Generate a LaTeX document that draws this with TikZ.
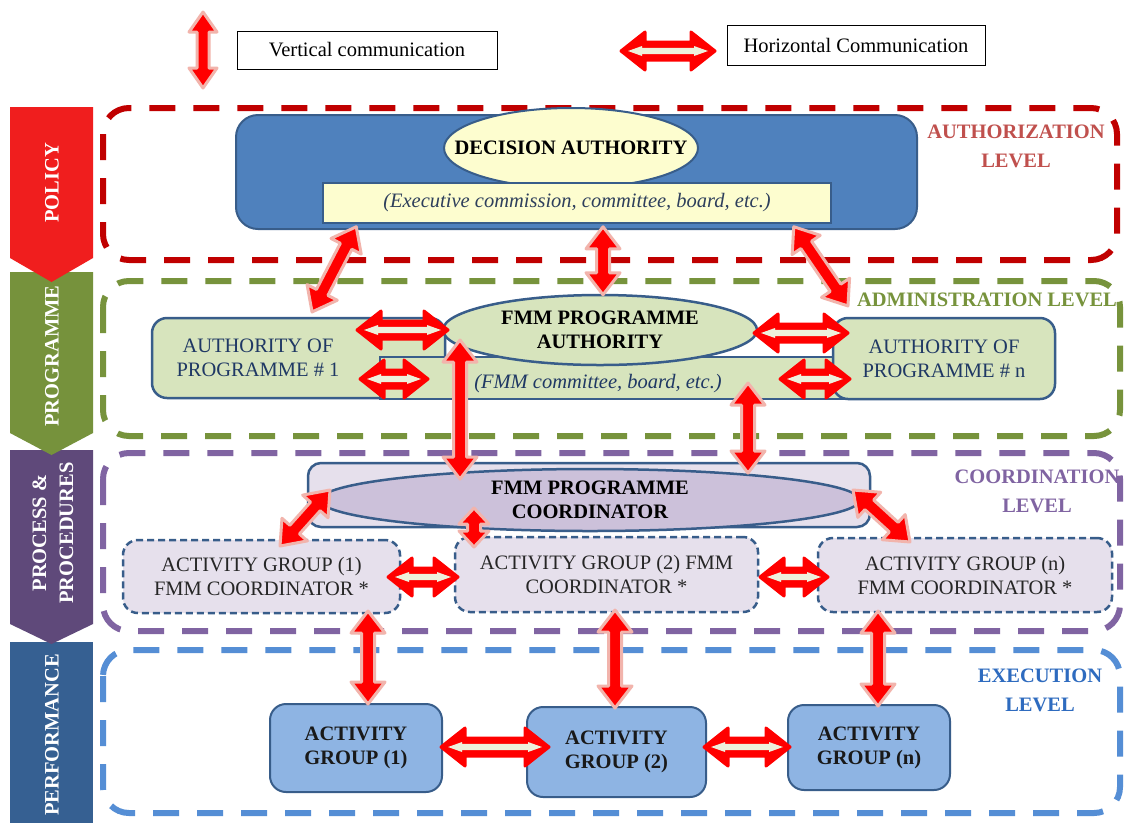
\documentclass[tikz,border=0pt]{standalone}
\usepackage{fontspec}
\setmainfont{Liberation Serif}
\usetikzlibrary{calc,shapes.geometric}

\definecolor{bandred}{HTML}{F01E1E}
\definecolor{bandgreen}{HTML}{76923C}
\definecolor{bandpurple}{HTML}{5F497A}
\definecolor{bandblue}{HTML}{366092}
\definecolor{framered}{HTML}{C00000}
\definecolor{framegreen}{HTML}{77933C}
\definecolor{framepurple}{HTML}{8064A2}
\definecolor{frameblue}{HTML}{558ED5}
\definecolor{edgeblue}{HTML}{385D8A}
\definecolor{decfill}{HTML}{4F81BD}
\definecolor{paleyellow}{HTML}{FDFDCF}
\definecolor{progfill}{HTML}{D7E4BD}
\definecolor{coordfill}{HTML}{E6E0EC}
\definecolor{coordell}{HTML}{CCC1DA}
\definecolor{execfill}{HTML}{8EB4E3}
\definecolor{navytext}{HTML}{1F3864}
\definecolor{italictext}{HTML}{2E3F5C}
\definecolor{arrowred}{HTML}{FF0000}
\definecolor{arrowpink}{HTML}{F2B4AC}
\definecolor{arrowcream}{HTML}{EEF0DC}
\definecolor{lblred}{HTML}{C0504D}
\definecolor{lblgreen}{HTML}{77933C}
\definecolor{lblpurple}{HTML}{8064A2}
\definecolor{lblblue}{HTML}{2E6BBF}

\newcommand\diafont{\fontsize{20.5}{24}\selectfont}

% block-arrow geometry (all in pt): inset, head length, head half width, shaft half width
\def\bkI{0}\def\bkH{22}\def\bkW{17}\def\bkS{6.5}

\tikzset{
  bkinset/.code={\def\bkI{#1}},
  bkhead/.code={\def\bkH{#1}},
  bkhalf/.code={\def\bkW{#1}},
  bkshaft/.code={\def\bkS{#1}},
  blockarrow/.style={to path={
    let \p1=(\tikztostart), \p2=(\tikztotarget),
        \n1={atan2(\y2-\y1,\x2-\x1)}, \n2={veclen(\x2-\x1,\y2-\y1)} in
    ($(\p1)+(\n1:\bkI pt)$)
    -- ($(\p1)+(\n1:\bkI pt+\bkH pt)+(\n1+90:\bkW pt)$)
    -- ($(\p1)+(\n1:\bkI pt+\bkH pt)+(\n1+90:\bkS pt)$)
    -- ($(\p1)+(\n1:\n2-\bkI pt-\bkH pt)+(\n1+90:\bkS pt)$)
    -- ($(\p1)+(\n1:\n2-\bkI pt-\bkH pt)+(\n1+90:\bkW pt)$)
    -- ($(\p1)+(\n1:\n2-\bkI pt)$)
    -- ($(\p1)+(\n1:\n2-\bkI pt-\bkH pt)+(\n1-90:\bkW pt)$)
    -- ($(\p1)+(\n1:\n2-\bkI pt-\bkH pt)+(\n1-90:\bkS pt)$)
    -- ($(\p1)+(\n1:\bkI pt+\bkH pt)+(\n1-90:\bkS pt)$)
    -- ($(\p1)+(\n1:\bkI pt+\bkH pt)+(\n1-90:\bkW pt)$)
    -- cycle}},
  vconn/.style={blockarrow, fill=arrowred, draw=arrowpink, line width=3pt, line join=round},
  hout/.style={blockarrow, fill=arrowred, draw=arrowred, line width=3pt, line join=round,
    bkhead=24, bkhalf=19, bkshaft=9},
  hin/.style={blockarrow, fill=arrowcream, bkinset=7, bkhead=14, bkhalf=5, bkshaft=3.2},
  lvlframe/.style={line width=6pt, dash pattern=on 26pt off 18pt, rounded corners=26pt},
  bandtext/.style={rotate=90, text=white, font=\diafont\bfseries, align=center, inner sep=0pt},
  legendbox/.style={draw=black, line width=1pt, fill=white, inner sep=0pt, font=\diafont},
  decbox/.style={fill=decfill, draw=edgeblue, line width=2pt, rounded corners=22pt, inner sep=0pt},
  yellowell/.style={ellipse, fill=paleyellow, draw=edgeblue, line width=2pt, inner sep=0pt},
  celltext/.style={font=\diafont\bfseries, inner sep=0pt, align=center},
  yellowbar/.style={fill=paleyellow, draw=edgeblue, line width=1.5pt, inner sep=0pt,
    font=\diafont\itshape, text=italictext},
  progbox/.style={fill=progfill, draw=edgeblue, line width=2.5pt, rounded corners=15pt, inner sep=0pt},
  progell/.style={ellipse, fill=progfill, draw=edgeblue, line width=2.5pt, inner sep=0pt},
  coordbox/.style={fill=coordfill, draw=edgeblue, line width=2.5pt, rounded corners=13pt, inner sep=0pt},
  coordell/.style={ellipse, fill=coordell, draw=edgeblue, line width=2.5pt, inner sep=0pt},
  agbox/.style={fill=coordfill, draw=edgeblue, line width=2.5pt, dash pattern=on 7pt off 4pt,
    rounded corners=15pt, inner sep=0pt, font=\diafont, text=black!85, align=center},
  execbox/.style={fill=execfill, draw=edgeblue, line width=2pt, rounded corners=16pt, inner sep=0pt,
    font=\diafont\bfseries, text=black!90, align=center},
  lvllabel/.style={font=\fontsize{20.5}{29}\selectfont\bfseries, align=center, inner sep=0pt},
  plaintext/.style={font=\diafont, inner sep=0pt, align=center},
}

\newcommand\commlink[2]{\draw[hout] (#1) to (#2); \fill[hin] (#1) to (#2);}

\begin{document}
\begin{tikzpicture}[x=1pt,y=-1pt]
\useasboundingbox[fill=white] (0,0) rectangle (1129,823);

% ---- side bands (chevrons) ----
\fill[bandblue] (10,642) -- (93,642) -- (93,823) -- (10,823) -- cycle;
\fill[bandpurple] (10,450) -- (93,450) -- (93,624) -- (51.5,644) -- (10,624) -- cycle;
\fill[bandgreen] (10,272) -- (93,272) -- (93,433) -- (51.5,455) -- (10,433) -- cycle;
\fill[bandred] (10,107) -- (93,107) -- (93,258) -- (51.5,282) -- (10,258) -- cycle;
\node[bandtext] (bpolicy) at (52,183) {POLICY};
\node[bandtext] (bprog) at (52,356) {PROGRAMME};
\node[bandtext, font=\fontsize{20.5}{27}\selectfont\bfseries] (bproc) at (53,533) {PROCESS \&\\PROCEDURES};
\node[bandtext] (bperf) at (52,735) {PERFORMANCE};

% ---- level frames ----
\draw[lvlframe, framered] (103,108) rectangle (1117,260);
\draw[lvlframe, framegreen] (103,281) rectangle (1120,436);
\draw[lvlframe, framepurple] (103,453) rectangle (1120,631);
\draw[lvlframe, frameblue] (103,650) rectangle (1120,813);

\node[lvllabel, text=lblred] (lauth) at (1016,146) {AUTHORIZATION\\LEVEL};
\node[lvllabel, text=lblgreen] (ladmin) at (987,300) {ADMINISTRATION LEVEL};
\node[lvllabel, text=lblpurple] (lcoord) at (1037,491) {COORDINATION\\LEVEL};
\node[lvllabel, text=lblblue] (lexec) at (1040,690) {EXECUTION\\LEVEL};

% ---- legend ----
\node[legendbox, minimum width=260pt, minimum height=38pt] (legv) at (367,50) {Vertical communication};
\node[legendbox, minimum width=258pt, minimum height=40pt] (legh) at (856,45) {Horizontal Communication};

% ---- authorization level ----
\node[decbox, minimum width=681pt, minimum height=114pt] (dec) at (576.5,172) {};
\node[yellowell, minimum width=254pt, minimum height=80pt,
      label={[celltext]center:DECISION AUTHORITY}] (decell) at (571,148) {};
\node[yellowbar, minimum width=508pt, minimum height=40pt] (decbar) at (577,203) {(Executive commission, committee, board, etc.)};

% ---- administration level ----
\node[progbox, minimum width=293pt, minimum height=80pt] (prog1) at (298.5,358) {};
\node[plaintext, text=navytext] (prog1t) at (258,358) {AUTHORITY OF\\PROGRAMME \# 1};
\node[fill=progfill, draw=edgeblue, line width=2pt, minimum width=465pt, minimum height=42pt, inner sep=0pt] (comm) at (612.5,378) {};
\node[plaintext, font=\diafont\itshape, text=navytext] (commt) at (598,384) {(FMM committee, board, etc.)};
\node[progell, minimum width=314pt, minimum height=70pt,
      label={[celltext]center:FMM PROGRAMME\\AUTHORITY}] (fmmauth) at (600,330) {};
\node[progbox, minimum width=222pt, minimum height=81pt, font=\diafont, text=navytext, align=center] (progn) at (944,358.5) {AUTHORITY OF\\PROGRAMME \# n};

% ---- coordination level ----
\node[coordbox, minimum width=562pt, minimum height=64pt] (coordrect) at (589,495) {};
\node[coordell, minimum width=540pt, minimum height=62pt,
      label={[celltext]center:FMM PROGRAMME\\COORDINATOR}] (coord) at (590,500) {};
\node[agbox, minimum width=277pt, minimum height=73pt] (ag1) at (261.5,576.5) {ACTIVITY GROUP (1)\\FMM COORDINATOR *};
\node[agbox, minimum width=303pt, minimum height=75pt] (ag2) at (606.5,574.5) {ACTIVITY GROUP (2) FMM\\COORDINATOR *};
\node[agbox, minimum width=294pt, minimum height=74pt] (agn) at (965,575) {ACTIVITY GROUP (n)\\FMM COORDINATOR *};

% ---- execution level ----
\node[execbox, minimum width=172pt, minimum height=88pt] (ex1) at (356,748) {ACTIVITY\\GROUP (1)};
\node[execbox, minimum width=179pt, minimum height=90pt] (ex2) at (616.5,752) {ACTIVITY\\GROUP (2)};
\node[execbox, minimum width=162pt, minimum height=85pt] (exn) at (869,747.5) {ACTIVITY\\GROUP (n)};

% ---- vertical communication links ----
\coordinate (lv1) at (203,12);   \coordinate (lv2) at (203,88);
\coordinate (d1) at ($(decbar.south west)+(34,3)$);  \coordinate (p1top) at (312,312);
\coordinate (d2) at ($(decbar.south)+(26,3)$);       \coordinate (fatop) at ($(fmmauth.north)+(3,1)$);
\coordinate (d3) at ($(decbar.south east)+(-38,3)$); \coordinate (pntop) at (848,306);
\coordinate (fa1) at (460,340);  \coordinate (co1) at (460,479);
\coordinate (cm1) at (748,383);  \coordinate (co2) at (748,473);
\coordinate (co3) at (330,490);  \coordinate (ag1top) at (280,546);
\coordinate (co4) at (474,508);  \coordinate (ag2top) at (474,547);
\coordinate (co5) at (853,490);  \coordinate (agntop) at (910,542);
\coordinate (ag1b) at (368,611); \coordinate (ex1t) at (368,704);
\coordinate (ag2b) at (615,610); \coordinate (ex2t) at (615,708);
\coordinate (agnb) at (878,611); \coordinate (exnt) at (878,706);

\draw[vconn, bkhalf=14, bkshaft=6, bkhead=20] (lv1) to (lv2);
\draw[vconn] (d1) to (p1top);
\draw[vconn] (d2) to (fatop);
\draw[vconn] (d3) to (pntop);
\draw[vconn] (fa1) to (co1);
\draw[vconn] (cm1) to (co2);
\draw[vconn] (co3) to (ag1top);
\draw[vconn, bkhead=16, bkhalf=15] (co4) to (ag2top);
\draw[vconn] (co5) to (agntop);
\draw[vconn] (ag1b) to (ex1t);
\draw[vconn] (ag2b) to (ex2t);
\draw[vconn] (agnb) to (exnt);

% ---- horizontal communication links ----
\coordinate (lh1) at (621,51);  \coordinate (lh2) at (715,51);
\coordinate (h1a) at (357,330); \coordinate (h1b) at (448,330);
\coordinate (h2a) at (360,379); \coordinate (h2b) at (428,379);
\coordinate (h3a) at (754,333); \coordinate (h3b) at (848,333);
\coordinate (h4a) at (780,379); \coordinate (h4b) at (850,379);
\coordinate (h5a) at (388,577); \coordinate (h5b) at (458,577);
\coordinate (h6a) at (760,577); \coordinate (h6b) at (828,577);
\coordinate (h7a) at (441,747); \coordinate (h7b) at (549,747);
\coordinate (h8a) at (704,747); \coordinate (h8b) at (790,747);

\commlink{lh1}{lh2}
\commlink{h1a}{h1b}
\commlink{h2a}{h2b}
\commlink{h3a}{h3b}
\commlink{h4a}{h4b}
\commlink{h5a}{h5b}
\commlink{h6a}{h6b}
\commlink{h7a}{h7b}
\commlink{h8a}{h8b}
\end{tikzpicture}
\end{document}
